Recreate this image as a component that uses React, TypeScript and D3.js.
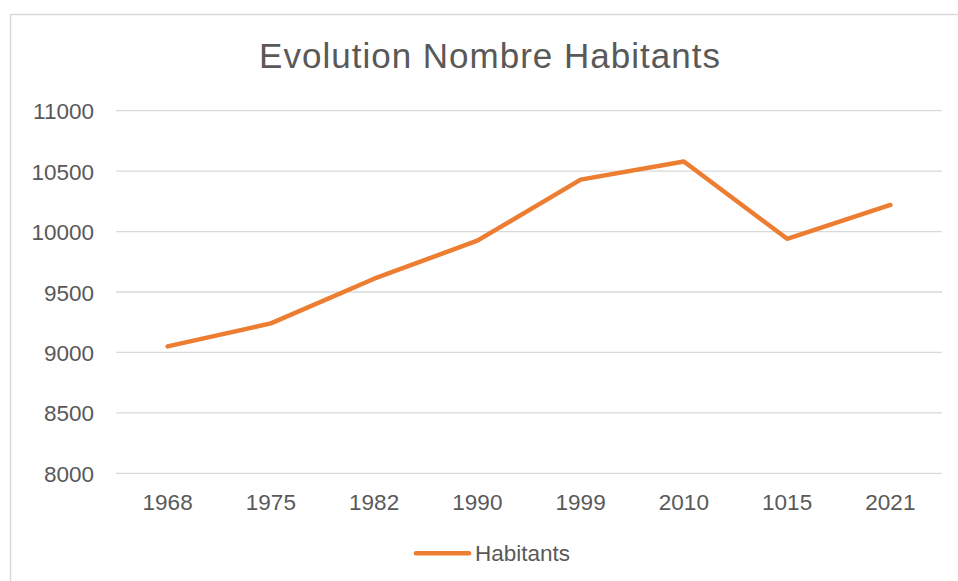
import React from "react";
import * as d3 from "d3";

const categories: string[] = ["1968", "1975", "1982", "1990", "1999", "2010", "1015", "2021"];
const habitants: number[] = [9050, 9240, 9610, 9925, 10430, 10580, 9940, 10220];
const yTicks: number[] = [8000, 8500, 9000, 9500, 10000, 10500, 11000];
const seriesName = "Habitants";
const titleText = "Evolution Nombre Habitants";

const W = 958;
const H = 581;
const plotLeft = 116;
const plotRight = 942;
const plotTop = 110.7;
const plotBottom = 473.3;
const FONT = "'Liberation Sans', Arial, sans-serif";
const TEXT = "#595959";
const GRID = "#d9d9d9";
const LINE = "#ED7D31";

export default function App() {
  const x = d3.scaleBand<string>().domain(categories).range([plotLeft, plotRight]);
  const y = d3.scaleLinear().domain([8000, 11000]).range([plotBottom, plotTop]);
  const pts: [number, number][] = habitants.map((v, i) => [
    (x(categories[i]) as number) + x.bandwidth() / 2,
    y(v),
  ]);
  const path = d3.line()(pts) || "";

  return (
    <svg
      width={W}
      height={H}
      style={{ position: "absolute", left: 0, top: 0, background: "#fff" }}
    >
      <rect x={0} y={0} width={W} height={H} fill="#fff" />
      <rect
        x={10.5}
        y={14.5}
        width={1000}
        height={700}
        fill="#fff"
        stroke={GRID}
        strokeWidth={1.5}
      />
      <text
        x={490}
        y={67.5}
        textAnchor="middle"
        fontFamily={FONT}
        fontSize={35}
        letterSpacing={1}
        fill={TEXT}
      >
        {titleText}
      </text>
      {yTicks.map((t) => (
        <g key={t}>
          <line
            x1={plotLeft}
            x2={plotRight}
            y1={y(t)}
            y2={y(t)}
            stroke={GRID}
            strokeWidth={1.3}
          />
          <text
            x={94}
            y={y(t) + 8.5}
            textAnchor="end"
            fontFamily={FONT}
            fontSize={22.5}
            fill={TEXT}
          >
            {t}
          </text>
        </g>
      ))}
      {categories.map((c) => (
        <text
          key={c}
          x={(x(c) as number) + x.bandwidth() / 2}
          y={510}
          textAnchor="middle"
          fontFamily={FONT}
          fontSize={22.5}
          fill={TEXT}
        >
          {c}
        </text>
      ))}
      <path
        d={path}
        fill="none"
        stroke={LINE}
        strokeWidth={4.5}
        strokeLinejoin="round"
        strokeLinecap="round"
      />
      <line
        x1={416}
        x2={469}
        y1={553.3}
        y2={553.3}
        stroke={LINE}
        strokeWidth={4.5}
        strokeLinecap="round"
      />
      <text x={475} y={561} fontFamily={FONT} fontSize={22.5} fill={TEXT}>
        {seriesName}
      </text>
    </svg>
  );
}
